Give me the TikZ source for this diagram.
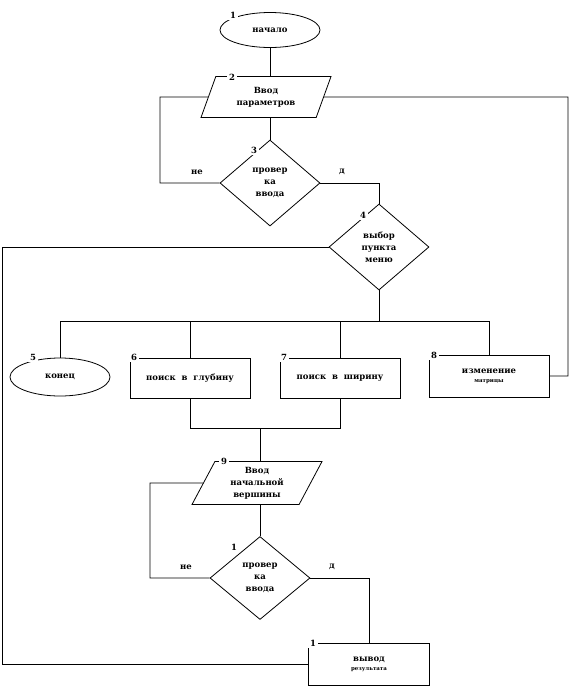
\documentclass[tikz,border=0pt]{standalone}
\usepackage{fontspec}
\setmainfont{DejaVu Serif}
\usetikzlibrary{shapes.geometric,positioning,calc}

\begin{document}
\begin{tikzpicture}[x=1pt, y=-1pt, line width=0.8pt,
  font=\fontsize{8.5}{12}\selectfont\bfseries,
  term/.style={draw, ellipse, minimum width=100pt, minimum height=35pt, inner sep=0pt},
  io/.style={draw, trapezium, trapezium left angle=56, trapezium right angle=124,
             trapezium stretches body, minimum width=130pt, minimum height=41pt,
             inner sep=1pt, align=center},
  dec/.style={draw, diamond, minimum width=100pt, minimum height=86pt,
              inner sep=0pt, align=center},
  proc/.style={draw, rectangle, minimum width=120pt, minimum height=40pt, align=center},
  num/.style={fill=white, inner sep=2pt}]

\useasboundingbox (0,0) rectangle (570,689);

% ---- Upper part: start, input, check, menu ----
\node[term] (start) at (270,30) {начало};
\node[io] (par) at (266,97) {Ввод\\параметров};
\node[dec] (chk) at (270,183) {провер\\ка\\ввода};
\node[dec] (menu) at (379,247) {выбор\\пункта\\меню};

\node (no1) at (197,172) {не};
\node (yes1) at (342,172) {д};

% ---- Middle row: menu items ----
\node[term, minimum height=38pt] (end) at (60,377) {конец};
\node[proc] (dfs) at (190,378) {поиск\ \ в\ \ глубину};
\node[proc] (bfs) at (340,378) {поиск\ \ в\ \ ширину};
\node[proc, minimum height=42pt] (edit) at (489,376)
  {изменение\\[-3pt]{\fontsize{5.5}{7}\selectfont матрицы}};

% ---- Lower part: start vertex, check, output ----
\node[io, minimum height=43pt] (vin) at (257,483) {Ввод\\начальной\\вершины};
\node[dec, minimum height=83pt] (chk2) at (260,578) {провер\\ка\\ввода};
\node[proc, minimum width=121pt, minimum height=42pt] (out) at (369,664)
  {вывод\\[-3pt]{\fontsize{5.5}{7}\selectfont результата}};

\node (no2) at (186,567) {не};
\node (yes2) at (332,567) {д};

% helper points for the loops
\coordinate (lp1) at (160,97);
\coordinate (rp) at (568,97);
\coordinate (lp2) at (2,247);
\coordinate (bus) at (379,321);
\coordinate (join) at (260,428);
\coordinate (lp3) at (150,483);

% ---- Connectors ----
\draw (start) -- (start |- par.north);
\draw (chk.north) -- (chk.north |- par.south);
\draw (chk.west) -| (lp1) -- (par.west);
\draw (chk.east) -| (menu.north);
\draw (par.east) -- (rp) |- (edit.east);
\draw (menu.west) -- (lp2) |- (out.west);
\draw (menu.south) -- (bus);
\foreach \n in {end,dfs,bfs,edit}
  \draw (bus) -| (\n.north);
\draw (dfs.south) |- (join);
\draw (bfs.south) |- (join);
\draw (join) -- (join |- vin.north);
\draw (chk2.north) -- (chk2.north |- vin.south);
\draw (chk2.west) -| (lp3) -- (vin.west);
\draw (chk2.east) -| (out.north);

% ---- Block numbers ----
\node[num] (n1) at (233,15) {1};
\node[num] (n2) at (232,77) {2};
\node[num] (n3) at (254,150) {3};
\node[num] (n4) at (363,215) {4};
\node[num] (n5) at (33,357) {5};
\node[num] (n6) at (134,357) {6};
\node[num] (n7) at (284,357) {7};
\node[num] (n8) at (434,355) {8};
\node[num] (n9) at (224,461) {9};
\node[num] (n10) at (234,547) {1};
\node[num] (n11) at (313,643) {1};

\end{tikzpicture}
\end{document}
